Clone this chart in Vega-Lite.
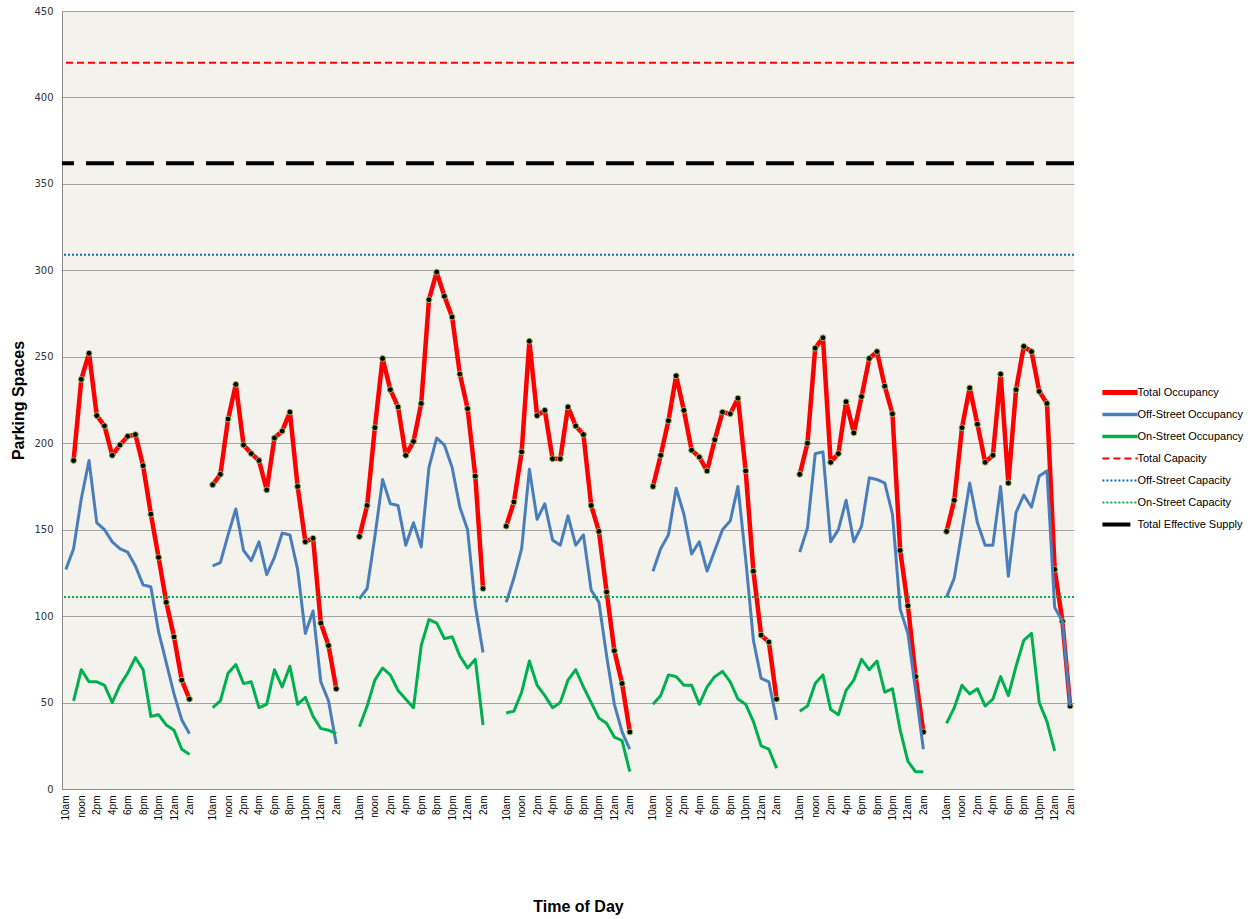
{
  "$schema": "https://vega.github.io/schema/vega-lite/v6.json",
  "width": 1012,
  "height": 778,
  "autosize": {"type": "none"},
  "padding": {"left": 62, "top": 11, "right": 182, "bottom": 130},
  "background": "white",
  "config": {"view": {"fill": "#F4F2EC", "stroke": null}},
  "datasets": {
    "occ": [
      {"day":1,"slot":0,"Total Occupancy":null,"Off-Street Occupancy":127,"On-Street Occupancy":null},
      {"day":1,"slot":1,"Total Occupancy":190,"Off-Street Occupancy":139,"On-Street Occupancy":51},
      {"day":1,"slot":2,"Total Occupancy":237,"Off-Street Occupancy":168,"On-Street Occupancy":69},
      {"day":1,"slot":3,"Total Occupancy":252,"Off-Street Occupancy":190,"On-Street Occupancy":62},
      {"day":1,"slot":4,"Total Occupancy":216,"Off-Street Occupancy":154,"On-Street Occupancy":62},
      {"day":1,"slot":5,"Total Occupancy":210,"Off-Street Occupancy":150,"On-Street Occupancy":60},
      {"day":1,"slot":6,"Total Occupancy":193,"Off-Street Occupancy":143,"On-Street Occupancy":50},
      {"day":1,"slot":7,"Total Occupancy":199,"Off-Street Occupancy":139,"On-Street Occupancy":60},
      {"day":1,"slot":8,"Total Occupancy":204,"Off-Street Occupancy":137,"On-Street Occupancy":67},
      {"day":1,"slot":9,"Total Occupancy":205,"Off-Street Occupancy":129,"On-Street Occupancy":76},
      {"day":1,"slot":10,"Total Occupancy":187,"Off-Street Occupancy":118,"On-Street Occupancy":69},
      {"day":1,"slot":11,"Total Occupancy":159,"Off-Street Occupancy":117,"On-Street Occupancy":42},
      {"day":1,"slot":12,"Total Occupancy":134,"Off-Street Occupancy":91,"On-Street Occupancy":43},
      {"day":1,"slot":13,"Total Occupancy":108,"Off-Street Occupancy":73,"On-Street Occupancy":37},
      {"day":1,"slot":14,"Total Occupancy":88,"Off-Street Occupancy":55,"On-Street Occupancy":34},
      {"day":1,"slot":15,"Total Occupancy":63,"Off-Street Occupancy":40,"On-Street Occupancy":23},
      {"day":1,"slot":16,"Total Occupancy":52,"Off-Street Occupancy":32,"On-Street Occupancy":20},

      {"day":2,"slot":19,"Total Occupancy":176,"Off-Street Occupancy":129,"On-Street Occupancy":47},
      {"day":2,"slot":20,"Total Occupancy":182,"Off-Street Occupancy":131,"On-Street Occupancy":51},
      {"day":2,"slot":21,"Total Occupancy":214,"Off-Street Occupancy":147,"On-Street Occupancy":67},
      {"day":2,"slot":22,"Total Occupancy":234,"Off-Street Occupancy":162,"On-Street Occupancy":72},
      {"day":2,"slot":23,"Total Occupancy":199,"Off-Street Occupancy":138,"On-Street Occupancy":61},
      {"day":2,"slot":24,"Total Occupancy":194,"Off-Street Occupancy":132,"On-Street Occupancy":62},
      {"day":2,"slot":25,"Total Occupancy":190,"Off-Street Occupancy":143,"On-Street Occupancy":47},
      {"day":2,"slot":26,"Total Occupancy":173,"Off-Street Occupancy":124,"On-Street Occupancy":49},
      {"day":2,"slot":27,"Total Occupancy":203,"Off-Street Occupancy":134,"On-Street Occupancy":69},
      {"day":2,"slot":28,"Total Occupancy":207,"Off-Street Occupancy":148,"On-Street Occupancy":59},
      {"day":2,"slot":29,"Total Occupancy":218,"Off-Street Occupancy":147,"On-Street Occupancy":71},
      {"day":2,"slot":30,"Total Occupancy":175,"Off-Street Occupancy":127,"On-Street Occupancy":49},
      {"day":2,"slot":31,"Total Occupancy":143,"Off-Street Occupancy":90,"On-Street Occupancy":53},
      {"day":2,"slot":32,"Total Occupancy":145,"Off-Street Occupancy":103,"On-Street Occupancy":42},
      {"day":2,"slot":33,"Total Occupancy":96,"Off-Street Occupancy":62,"On-Street Occupancy":35},
      {"day":2,"slot":34,"Total Occupancy":83,"Off-Street Occupancy":51,"On-Street Occupancy":34},
      {"day":2,"slot":35,"Total Occupancy":58,"Off-Street Occupancy":26,"On-Street Occupancy":32},

      {"day":3,"slot":38,"Total Occupancy":146,"Off-Street Occupancy":110,"On-Street Occupancy":36},
      {"day":3,"slot":39,"Total Occupancy":164,"Off-Street Occupancy":116,"On-Street Occupancy":48},
      {"day":3,"slot":40,"Total Occupancy":209,"Off-Street Occupancy":146,"On-Street Occupancy":63},
      {"day":3,"slot":41,"Total Occupancy":249,"Off-Street Occupancy":179,"On-Street Occupancy":70},
      {"day":3,"slot":42,"Total Occupancy":231,"Off-Street Occupancy":165,"On-Street Occupancy":66},
      {"day":3,"slot":43,"Total Occupancy":221,"Off-Street Occupancy":164,"On-Street Occupancy":57},
      {"day":3,"slot":44,"Total Occupancy":193,"Off-Street Occupancy":141,"On-Street Occupancy":52},
      {"day":3,"slot":45,"Total Occupancy":201,"Off-Street Occupancy":154,"On-Street Occupancy":47},
      {"day":3,"slot":46,"Total Occupancy":223,"Off-Street Occupancy":140,"On-Street Occupancy":83},
      {"day":3,"slot":47,"Total Occupancy":283,"Off-Street Occupancy":186,"On-Street Occupancy":98},
      {"day":3,"slot":48,"Total Occupancy":299,"Off-Street Occupancy":203,"On-Street Occupancy":96},
      {"day":3,"slot":49,"Total Occupancy":285,"Off-Street Occupancy":199,"On-Street Occupancy":87},
      {"day":3,"slot":50,"Total Occupancy":273,"Off-Street Occupancy":186,"On-Street Occupancy":88},
      {"day":3,"slot":51,"Total Occupancy":240,"Off-Street Occupancy":163,"On-Street Occupancy":77},
      {"day":3,"slot":52,"Total Occupancy":220,"Off-Street Occupancy":150,"On-Street Occupancy":70},
      {"day":3,"slot":53,"Total Occupancy":181,"Off-Street Occupancy":106,"On-Street Occupancy":75},
      {"day":3,"slot":54,"Total Occupancy":116,"Off-Street Occupancy":79,"On-Street Occupancy":37},

      {"day":4,"slot":57,"Total Occupancy":152,"Off-Street Occupancy":108,"On-Street Occupancy":44},
      {"day":4,"slot":58,"Total Occupancy":166,"Off-Street Occupancy":122,"On-Street Occupancy":45},
      {"day":4,"slot":59,"Total Occupancy":195,"Off-Street Occupancy":139,"On-Street Occupancy":56},
      {"day":4,"slot":60,"Total Occupancy":259,"Off-Street Occupancy":185,"On-Street Occupancy":74},
      {"day":4,"slot":61,"Total Occupancy":216,"Off-Street Occupancy":156,"On-Street Occupancy":60},
      {"day":4,"slot":62,"Total Occupancy":219,"Off-Street Occupancy":165,"On-Street Occupancy":54},
      {"day":4,"slot":63,"Total Occupancy":191,"Off-Street Occupancy":144,"On-Street Occupancy":47},
      {"day":4,"slot":64,"Total Occupancy":191,"Off-Street Occupancy":141,"On-Street Occupancy":50},
      {"day":4,"slot":65,"Total Occupancy":221,"Off-Street Occupancy":158,"On-Street Occupancy":63},
      {"day":4,"slot":66,"Total Occupancy":210,"Off-Street Occupancy":141,"On-Street Occupancy":69},
      {"day":4,"slot":67,"Total Occupancy":205,"Off-Street Occupancy":147,"On-Street Occupancy":59},
      {"day":4,"slot":68,"Total Occupancy":164,"Off-Street Occupancy":115,"On-Street Occupancy":50},
      {"day":4,"slot":69,"Total Occupancy":149,"Off-Street Occupancy":108,"On-Street Occupancy":41},
      {"day":4,"slot":70,"Total Occupancy":114,"Off-Street Occupancy":77,"On-Street Occupancy":38},
      {"day":4,"slot":71,"Total Occupancy":80,"Off-Street Occupancy":49,"On-Street Occupancy":30},
      {"day":4,"slot":72,"Total Occupancy":61,"Off-Street Occupancy":33,"On-Street Occupancy":28},
      {"day":4,"slot":73,"Total Occupancy":33,"Off-Street Occupancy":23,"On-Street Occupancy":10},

      {"day":5,"slot":76,"Total Occupancy":175,"Off-Street Occupancy":126,"On-Street Occupancy":49},
      {"day":5,"slot":77,"Total Occupancy":193,"Off-Street Occupancy":139,"On-Street Occupancy":54},
      {"day":5,"slot":78,"Total Occupancy":213,"Off-Street Occupancy":147,"On-Street Occupancy":66},
      {"day":5,"slot":79,"Total Occupancy":239,"Off-Street Occupancy":174,"On-Street Occupancy":65},
      {"day":5,"slot":80,"Total Occupancy":219,"Off-Street Occupancy":159,"On-Street Occupancy":60},
      {"day":5,"slot":81,"Total Occupancy":196,"Off-Street Occupancy":136,"On-Street Occupancy":60},
      {"day":5,"slot":82,"Total Occupancy":192,"Off-Street Occupancy":143,"On-Street Occupancy":49},
      {"day":5,"slot":83,"Total Occupancy":184,"Off-Street Occupancy":126,"On-Street Occupancy":59},
      {"day":5,"slot":84,"Total Occupancy":202,"Off-Street Occupancy":138,"On-Street Occupancy":65},
      {"day":5,"slot":85,"Total Occupancy":218,"Off-Street Occupancy":150,"On-Street Occupancy":68},
      {"day":5,"slot":86,"Total Occupancy":217,"Off-Street Occupancy":155,"On-Street Occupancy":62},
      {"day":5,"slot":87,"Total Occupancy":226,"Off-Street Occupancy":175,"On-Street Occupancy":52},
      {"day":5,"slot":88,"Total Occupancy":184,"Off-Street Occupancy":133,"On-Street Occupancy":49},
      {"day":5,"slot":89,"Total Occupancy":126,"Off-Street Occupancy":86,"On-Street Occupancy":39},
      {"day":5,"slot":90,"Total Occupancy":89,"Off-Street Occupancy":64,"On-Street Occupancy":25},
      {"day":5,"slot":91,"Total Occupancy":85,"Off-Street Occupancy":62,"On-Street Occupancy":23},
      {"day":5,"slot":92,"Total Occupancy":52,"Off-Street Occupancy":40,"On-Street Occupancy":12},

      {"day":6,"slot":95,"Total Occupancy":182,"Off-Street Occupancy":137,"On-Street Occupancy":45},
      {"day":6,"slot":96,"Total Occupancy":200,"Off-Street Occupancy":151,"On-Street Occupancy":48},
      {"day":6,"slot":97,"Total Occupancy":255,"Off-Street Occupancy":194,"On-Street Occupancy":61},
      {"day":6,"slot":98,"Total Occupancy":261,"Off-Street Occupancy":195,"On-Street Occupancy":66},
      {"day":6,"slot":99,"Total Occupancy":189,"Off-Street Occupancy":143,"On-Street Occupancy":46},
      {"day":6,"slot":100,"Total Occupancy":194,"Off-Street Occupancy":150,"On-Street Occupancy":43},
      {"day":6,"slot":101,"Total Occupancy":224,"Off-Street Occupancy":167,"On-Street Occupancy":57},
      {"day":6,"slot":102,"Total Occupancy":206,"Off-Street Occupancy":143,"On-Street Occupancy":63},
      {"day":6,"slot":103,"Total Occupancy":227,"Off-Street Occupancy":152,"On-Street Occupancy":75},
      {"day":6,"slot":104,"Total Occupancy":249,"Off-Street Occupancy":180,"On-Street Occupancy":69},
      {"day":6,"slot":105,"Total Occupancy":253,"Off-Street Occupancy":179,"On-Street Occupancy":74},
      {"day":6,"slot":106,"Total Occupancy":233,"Off-Street Occupancy":177,"On-Street Occupancy":56},
      {"day":6,"slot":107,"Total Occupancy":217,"Off-Street Occupancy":159,"On-Street Occupancy":58},
      {"day":6,"slot":108,"Total Occupancy":138,"Off-Street Occupancy":104,"On-Street Occupancy":34},
      {"day":6,"slot":109,"Total Occupancy":106,"Off-Street Occupancy":90,"On-Street Occupancy":16},
      {"day":6,"slot":110,"Total Occupancy":65,"Off-Street Occupancy":57,"On-Street Occupancy":10},
      {"day":6,"slot":111,"Total Occupancy":33,"Off-Street Occupancy":23,"On-Street Occupancy":10},

      {"day":7,"slot":114,"Total Occupancy":149,"Off-Street Occupancy":111,"On-Street Occupancy":38},
      {"day":7,"slot":115,"Total Occupancy":167,"Off-Street Occupancy":122,"On-Street Occupancy":47},
      {"day":7,"slot":116,"Total Occupancy":209,"Off-Street Occupancy":149,"On-Street Occupancy":60},
      {"day":7,"slot":117,"Total Occupancy":232,"Off-Street Occupancy":177,"On-Street Occupancy":55},
      {"day":7,"slot":118,"Total Occupancy":211,"Off-Street Occupancy":154,"On-Street Occupancy":58},
      {"day":7,"slot":119,"Total Occupancy":189,"Off-Street Occupancy":141,"On-Street Occupancy":48},
      {"day":7,"slot":120,"Total Occupancy":193,"Off-Street Occupancy":141,"On-Street Occupancy":52},
      {"day":7,"slot":121,"Total Occupancy":240,"Off-Street Occupancy":175,"On-Street Occupancy":65},
      {"day":7,"slot":122,"Total Occupancy":177,"Off-Street Occupancy":123,"On-Street Occupancy":54},
      {"day":7,"slot":123,"Total Occupancy":231,"Off-Street Occupancy":160,"On-Street Occupancy":71},
      {"day":7,"slot":124,"Total Occupancy":256,"Off-Street Occupancy":170,"On-Street Occupancy":86},
      {"day":7,"slot":125,"Total Occupancy":253,"Off-Street Occupancy":163,"On-Street Occupancy":90},
      {"day":7,"slot":126,"Total Occupancy":230,"Off-Street Occupancy":181,"On-Street Occupancy":50},
      {"day":7,"slot":127,"Total Occupancy":223,"Off-Street Occupancy":184,"On-Street Occupancy":39},
      {"day":7,"slot":128,"Total Occupancy":127,"Off-Street Occupancy":105,"On-Street Occupancy":22},
      {"day":7,"slot":129,"Total Occupancy":97,"Off-Street Occupancy":97,"On-Street Occupancy":null},
      {"day":7,"slot":130,"Total Occupancy":48,"Off-Street Occupancy":48,"On-Street Occupancy":null}
    ],
    "cap": [
      {"series": "Total Capacity", "value": 420},
      {"series": "Off-Street Capacity", "value": 309},
      {"series": "On-Street Capacity", "value": 111},
      {"series": "Total Effective Supply", "value": 362}
    ]
  },
  "encoding": {
    "y": {
      "field": "value",
      "type": "quantitative",
      "scale": {"domain": [0, 450], "nice": false, "zero": true},
      "axis": {
        "values": [0, 50, 100, 150, 200, 250, 300, 350, 400, 450],
        "grid": true,
        "gridColor": "#A3A3A3",
        "gridWidth": 1,
        "ticks": false,
        "domainColor": "#8C8C8C",
        "labelFont": "DejaVu Sans",
        "labelFontSize": 10,
        "labelColor": "#333333",
        "labelPadding": 9,
        "title": "Parking Spaces",
        "titleFont": "Liberation Sans",
        "titleFontSize": 16,
        "titleFontWeight": "bold",
        "titleColor": "#000000",
        "titleX": -44,
        "titleY": 389,
        "titleAngle": 270,
        "titleAlign": "center",
        "titleBaseline": "middle"
      }
    }
  },
  "layer": [
    {
      "data": {"name": "occ"},
      "transform": [
        {"fold": ["Total Occupancy", "Off-Street Occupancy", "On-Street Occupancy"], "as": ["series", "value"]},
        {"filter": "isValid(datum.value)"}
      ],
      "encoding": {
        "x": {
          "field": "slot",
          "type": "quantitative",
          "scale": {"domain": [-0.5, 130.5], "nice": false, "zero": false},
          "axis": {
            "values": [0,2,4,6,8,10,12,14,16,19,21,23,25,27,29,31,33,35,38,40,42,44,46,48,50,52,54,57,59,61,63,65,67,69,71,73,76,78,80,82,84,86,88,90,92,95,97,99,101,103,105,107,109,111,114,116,118,120,122,124,126,128,130],
            "labelExpr": "['10am','noon','2pm','4pm','6pm','8pm','10pm','12am','2am'][floor((datum.value % 19) / 2)]",
            "labelAngle": 270,
            "labelFont": "Liberation Sans",
            "labelFontSize": 10,
            "labelColor": "#000000",
            "labelPadding": 6,
            "labelOverlap": false,
            "labelFlush": false,
            "ticks": false,
            "grid": false,
            "domainColor": "#8C8C8C",
            "title": "Time of Day",
            "titleFont": "Liberation Sans",
            "titleFontSize": 16,
            "titleFontWeight": "bold",
            "titleColor": "#000000",
            "titleX": 516,
            "titleY": 117,
            "titleAlign": "center",
            "titleBaseline": "middle"
          }
        }
      },
      "layer": [
        {
          "transform": [{"filter": "datum.series == 'Total Occupancy'"}],
          "mark": {"type": "line", "strokeWidth": 4.5, "strokeJoin": "round"},
          "encoding": {
            "detail": {"field": "day", "type": "nominal"},
            "color": {
              "field": "series", "type": "nominal",
              "scale": {
                "domain": ["Total Occupancy", "Off-Street Occupancy", "On-Street Occupancy", "Total Capacity", "Off-Street Capacity", "On-Street Capacity", "Total Effective Supply"],
                "range": ["#FF0000", "#4A7EBB", "#00B050", "#FF0000", "#0070C0", "#00B050", "#000000"]
              },
              "legend": {
                "title": null,
                "orient": "none",
                "legendX": 1055,
                "legendY": 376,
                "direction": "vertical",
                "symbolType": "M-1.6,0H1.6M0,-0.8M0,0.8",
                "symbolSize": 484,
                "symbolOffset": -2.5,
                "labelOffset": 12,
                "labelFont": "Liberation Sans",
                "labelFontSize": 11,
                "labelColor": "#000000",
                "labelLimit": 200,
                "rowPadding": 1,
                "padding": 0,
                "encode": {
                  "symbols": {
                    "update": {
                      "strokeJoin": {"value": "round"},
                      "strokeWidth": {"signal": "datum.value == 'Total Occupancy' ? 5 : datum.value == 'Total Effective Supply' ? 4 : (datum.value == 'Off-Street Occupancy' || datum.value == 'On-Street Occupancy') ? 3.5 : 2"},
                      "shape": {"signal": "datum.value == 'Total Occupancy' ? 'M-1.6,0H1.6M0,-0.714M0,0.714' : datum.value == 'Total Effective Supply' ? 'M-1.6,0H1.6M0,-0.76M0,0.76' : (datum.value == 'Off-Street Occupancy' || datum.value == 'On-Street Occupancy') ? 'M-1.6,0H1.6M0,-0.782M0,0.782' : 'M-1.6,0H1.6M0,-0.85M0,0.85'"}
                    }
                  }
                }
              }
            },
            "strokeDash": {
              "field": "series", "type": "nominal",
              "scale": {
                "domain": ["Total Occupancy", "Off-Street Occupancy", "On-Street Occupancy", "Total Capacity", "Off-Street Capacity", "On-Street Capacity", "Total Effective Supply"],
                "range": [[1, 0], [1, 0], [1, 0], [7, 4], [2, 2], [2, 2], [28, 12]]
              }
            }
          }
        },
        {
          "transform": [{"filter": "datum.series == 'Total Occupancy'"}],
          "mark": {"type": "point", "filled": true, "fill": "#000000", "stroke": "#9BBB59", "strokeWidth": 1, "size": 34, "opacity": 1}
        },
        {
          "transform": [{"filter": "datum.series == 'Off-Street Occupancy'"}],
          "mark": {"type": "line", "strokeWidth": 3, "strokeJoin": "round"},
          "encoding": {
            "detail": {"field": "day", "type": "nominal"},
            "color": {"field": "series", "type": "nominal"},
            "strokeDash": {"field": "series", "type": "nominal"}
          }
        },
        {
          "transform": [{"filter": "datum.series == 'On-Street Occupancy'"}],
          "mark": {"type": "line", "strokeWidth": 3, "strokeJoin": "round"},
          "encoding": {
            "detail": {"field": "day", "type": "nominal"},
            "color": {"field": "series", "type": "nominal"},
            "strokeDash": {"field": "series", "type": "nominal"}
          }
        }
      ]
    },
    {
      "data": {"name": "cap"},
      "transform": [{"filter": "datum.series != 'Total Effective Supply'"}],
      "mark": {"type": "rule", "strokeWidth": 2},
      "encoding": {
        "color": {"field": "series", "type": "nominal"},
        "strokeDash": {"field": "series", "type": "nominal"}
      }
    },
    {
      "data": {"name": "cap"},
      "transform": [{"filter": "datum.series == 'Total Effective Supply'"}],
      "mark": {"type": "rule", "strokeWidth": 4},
      "encoding": {
        "color": {"field": "series", "type": "nominal"},
        "strokeDash": {"field": "series", "type": "nominal"}
      }
    }
  ]
}
